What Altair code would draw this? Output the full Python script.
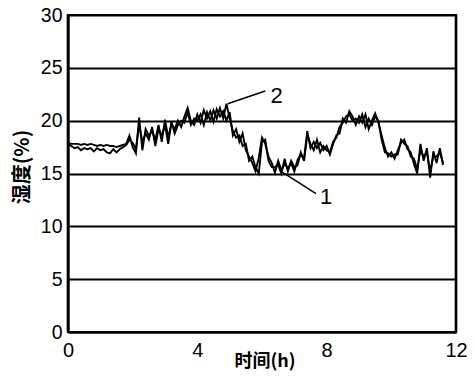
import altair as alt
import pandas as pd

hours = [round(i * 0.1, 1) for i in range(117)]

series1 = [17.9, 17.8, 17.8, 17.8, 17.7, 17.8, 17.7, 17.8, 17.7, 17.6,
           17.7, 17.6, 17.7, 17.6, 17.6, 17.5, 17.6, 17.7, 17.8, 18.6,
           17.5, 16.9, 20.3, 17.2, 19.2, 18.6, 19.0, 18.2, 19.6, 18.0,
           20.1, 18.4, 19.7, 19.2, 20.0, 19.4, 20.4, 21.2, 20.0, 19.6,
           20.6, 19.8, 21.0, 20.2, 20.9, 19.9, 21.1, 20.4, 20.9, 20.0,
           20.8, 18.6, 19.2, 18.0, 18.8, 17.2, 16.6, 16.0, 15.2, 16.5,
           18.4, 17.8, 16.6, 16.0, 15.1, 16.2, 15.3, 15.9, 15.5, 16.0,
           15.2, 16.3, 16.8, 16.4, 19.0, 17.4, 18.0, 17.4, 17.9, 17.2,
           17.6, 16.8, 17.8, 18.6, 18.8, 20.2, 19.8, 20.9, 20.4, 19.6,
           20.4, 19.8, 20.6, 19.2, 20.0, 20.7, 19.8, 18.6, 17.4, 16.6,
           17.0, 16.4, 17.2, 17.9, 18.2, 17.3, 17.0, 15.9, 15.0, 17.8,
           16.2, 17.4, 14.6, 17.1, 16.0, 17.4, 15.8]

series2 = [17.8, 17.6, 17.4, 17.5, 17.2, 17.4, 17.3, 17.4, 17.1, 17.4,
           17.2, 17.3, 17.0, 16.9, 17.3, 17.0, 17.3, 17.5, 17.7, 18.2,
           17.9, 17.3, 19.6, 18.0, 18.8, 18.2, 19.4, 17.6, 19.2, 18.6,
           19.6, 17.8, 19.9, 18.8, 19.6, 20.0, 19.8, 20.8, 19.6, 20.2,
           20.0, 20.6, 19.6, 20.8, 20.0, 21.0, 20.2, 21.2, 20.2, 21.6,
           20.2, 19.0, 18.4, 18.6, 17.6, 17.8, 16.2, 16.6, 15.6, 15.0,
           18.0, 18.2, 16.2, 15.6, 15.6, 15.8, 15.0, 16.4, 15.2, 16.2,
           15.6, 15.8, 17.0, 16.2, 18.6, 17.8, 17.2, 18.2, 17.0, 17.6,
           17.2, 17.0, 18.0, 18.4, 19.4, 19.8, 20.4, 20.6, 20.0, 20.2,
           19.8, 20.6, 19.4, 20.2, 19.6, 20.4, 20.0, 18.2, 17.0, 16.9,
           16.6, 16.8, 16.8, 18.2, 17.8, 17.6, 16.6, 16.4, 15.4, 17.2,
           16.6, 17.0, 15.2, 16.6, 16.6, 17.0, 16.0]

# annotation labels and leader lines (data coordinates)
label_text = ["2", "1"]
label_x = [6.45, 7.98]
label_y = [22.3, 12.8]
leader_x1 = [4.94, 6.59]
leader_y1 = [21.6, 15.2]
leader_x2 = [6.1, 7.67]
leader_y2 = [22.8, 13.1]

x_title = "时间(h)"
y_title = "湿度(%)"

df = pd.DataFrame({
    "t": hours * 2,
    "v": series1 + series2,
    "s": ["1"] * len(hours) + ["2"] * len(hours),
})
lab = pd.DataFrame({"txt": label_text, "x": label_x, "y": label_y})
lead = pd.DataFrame({"x": leader_x1, "y": leader_y1, "x2": leader_x2, "y2": leader_y2})

FONT = "Liberation Sans"
CJK = "Noto Sans CJK SC"
W, H = 388, 317

xscale = alt.Scale(domain=[0, 12], nice=False)
yscale = alt.Scale(domain=[0, 30], nice=False)

lines = alt.Chart(df).mark_line(color="black", strokeWidth=1.9).encode(
    x=alt.X("t:Q", scale=xscale,
            axis=alt.Axis(values=[0, 4, 8, 12], title=None, grid=False,
                          ticks=False, domain=True, domainColor="black",
                          domainWidth=2.2, labelFontSize=20,
                          labelFont=FONT, labelColor="black", labelPadding=8,
                          labelFlush=False)),
    y=alt.Y("v:Q", scale=yscale,
            axis=alt.Axis(values=[0, 5, 10, 15, 20, 25, 30], title=None,
                          grid=True, gridColor="black", gridWidth=2.2,
                          ticks=False, domain=True, domainColor="black",
                          domainWidth=2.2, labelFontSize=19.5,
                          labelFont=FONT, labelColor="black", labelPadding=6)),
    detail="s:N",
)

right_edge = alt.Chart(pd.DataFrame({"k": [1]})).mark_rule(
    color="black", strokeWidth=2.5
).encode(x=alt.value(W), y=alt.value(0), y2=alt.value(H))

left_edge = alt.Chart(pd.DataFrame({"k": [1]})).mark_rule(
    color="black", strokeWidth=2.5
).encode(x=alt.value(0), y=alt.value(0), y2=alt.value(H))

leaders = alt.Chart(lead).mark_rule(color="black", strokeWidth=1.6).encode(
    x=alt.X("x:Q", scale=xscale), y=alt.Y("y:Q", scale=yscale),
    x2="x2:Q", y2="y2:Q",
)

labels = alt.Chart(lab).mark_text(fontSize=22, font=FONT,
                                  color="black").encode(
    x=alt.X("x:Q", scale=xscale), y=alt.Y("y:Q", scale=yscale), text="txt:N",
)

xt = alt.Chart(pd.DataFrame({"txt": [x_title]})).mark_text(
    font=CJK, fontSize=18, fontWeight="bold", color="black", baseline="middle"
).encode(x=alt.value(197), y=alt.value(347), text="txt:N")

yt = alt.Chart(pd.DataFrame({"txt": [y_title]})).mark_text(
    font=CJK, fontSize=20, fontWeight="bold", color="black", angle=270,
    baseline="middle"
).encode(x=alt.value(-45), y=alt.value(152), text="txt:N")

chart = alt.layer(lines, right_edge, left_edge, leaders, labels, xt, yt).properties(
    width=W, height=H,
    background="white",
    autosize=alt.AutoSizeParams(type="none"),
    padding={"left": 60, "top": 7, "right": 11, "bottom": 40},
).configure_view(stroke="black", strokeWidth=2.2)

chart.save("out.html", embed_options={"renderer": "svg", "actions": False})
